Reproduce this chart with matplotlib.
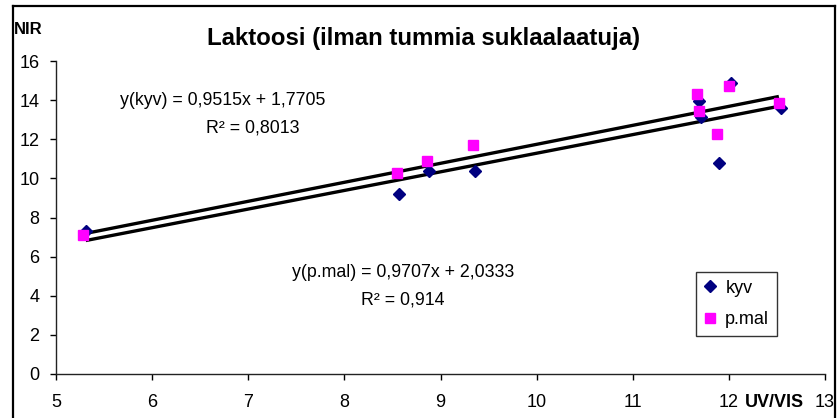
import matplotlib
matplotlib.use("Agg")
import matplotlib.pyplot as plt
import numpy as np
from matplotlib.lines import Line2D

plt.rcParams['font.family'] = ['Liberation Sans', 'DejaVu Sans']

# UV/VIS (x) vs NIR (y) lactose values for two sample preparations
kyv_x = [5.31, 8.57, 8.88, 9.36, 11.69, 11.71, 11.90, 12.02, 12.54]
kyv_y = [7.30, 9.20, 10.39, 10.39, 13.97, 13.16, 10.77, 14.89, 13.62]
pmal_x = [5.28, 8.545, 8.857, 9.34, 11.67, 11.69, 11.875, 12.00, 12.52]
pmal_y = [7.10, 10.26, 10.89, 11.71, 14.30, 13.46, 12.27, 14.74, 13.84]

# Linear fits (slope, intercept, R^2)
kyv_fit = (0.9515, 1.7705, 0.8013)
pmal_fit = (0.9707, 2.0333, 0.914)

title = "Laktoosi (ilman tummia suklaalaatuja)"
x_ticks = [5, 6, 7, 8, 9, 10, 11, 12, 13]
y_ticks = [0, 2, 4, 6, 8, 10, 12, 14, 16]

NAVY = "#000080"
MAGENTA = "#FF00FF"

W, H = 838, 418
fig = plt.figure(figsize=(W / 100, H / 100), dpi=100)
ax = fig.add_axes([56 / W, 1 - 374 / H, (825 - 56) / W, (374 - 61) / H])

ax.set_xlim(5, 13)
ax.set_ylim(0, 16)

# trend lines over the data range of each series
for xs, (m, b, _) in ((kyv_x, kyv_fit), (pmal_x, pmal_fit)):
    xx = np.array([min(xs), max(xs)])
    ax.plot(xx, m * xx + b, color="black", lw=2.4, solid_capstyle="butt", zorder=2)

ax.plot(kyv_x, kyv_y, linestyle="none", marker="D", ms=6.3, color=NAVY,
        mec=NAVY, label="kyv", zorder=3)
ax.plot(pmal_x, pmal_y, linestyle="none", marker="s", ms=7.8, color=MAGENTA,
        mec=MAGENTA, label="p.mal", zorder=4)

TICK_LEN = 4
XPAD = 10.5
LABEL_FS = 13
ax.set_xticks(x_ticks)
ax.set_yticks(y_ticks)
ax.tick_params(direction="out", length=TICK_LEN, width=1, labelsize=LABEL_FS, colors="black")
ax.tick_params(axis="x", pad=XPAD)
ax.tick_params(axis="y", pad=8)
for s in ("top", "right"):
    ax.spines[s].set_visible(False)
for s in ("left", "bottom"):
    ax.spines[s].set_linewidth(1.0)
    ax.spines[s].set_color("#222222")

def fmt(v):
    return str(v).replace(".", ",")

EQ_FS = 12.8
ax.text(6.73, 14.0, f"y(kyv) = {fmt(kyv_fit[0])}x + {fmt(kyv_fit[1])}",
        ha="center", va="center", fontsize=EQ_FS)
ax.text(7.05, 12.55, f"R² = {fmt(kyv_fit[2])}", ha="center", va="center", fontsize=EQ_FS)
ax.text(8.61, 5.2, f"y(p.mal) = {fmt(pmal_fit[0])}x + {fmt(pmal_fit[1])}",
        ha="center", va="center", fontsize=EQ_FS)
ax.text(8.61, 3.8, f"R² = {fmt(pmal_fit[2])}", ha="center", va="center", fontsize=EQ_FS)

fig.text(424 / W, 1 - 38 / H, title, fontsize=17.3, fontweight="bold",
         ha="center", va="center")

fig.text(14 / W, 1 - 30 / H, "NIR", fontsize=12, fontweight="bold", ha="left", va="center")

# x-axis title sits in the tick-label row, between the last two labels
label_top_px = 374 + (TICK_LEN + XPAD) * 100 / 72
fig.text(774 / W, 1 - label_top_px / H, "UV/VIS", fontsize=LABEL_FS, fontweight="bold",
         ha="center", va="top")

leg = ax.legend(loc="upper left", bbox_to_anchor=((696 - 56) / (825 - 56), 1 - (272 - 61) / (374 - 61)),
                frameon=True, fancybox=False, edgecolor="black", fontsize=13,
                handlelength=0.7, handletextpad=0.5, borderpad=0.42, labelspacing=0.8,
                borderaxespad=0)
leg.get_frame().set_linewidth(1.0)

# outer chart frame
for xs_, ys_ in (([13 / W, 13 / W], [0, 1 - 6 / H]),
                 ([13 / W, 835 / W], [1 - 6 / H, 1 - 6 / H]),
                 ([835 / W, 835 / W], [1 - 6 / H, 0])):
    fig.add_artist(Line2D(xs_, ys_, color="black", lw=1.6, transform=fig.transFigure))

fig.savefig("out.png", dpi=100)
